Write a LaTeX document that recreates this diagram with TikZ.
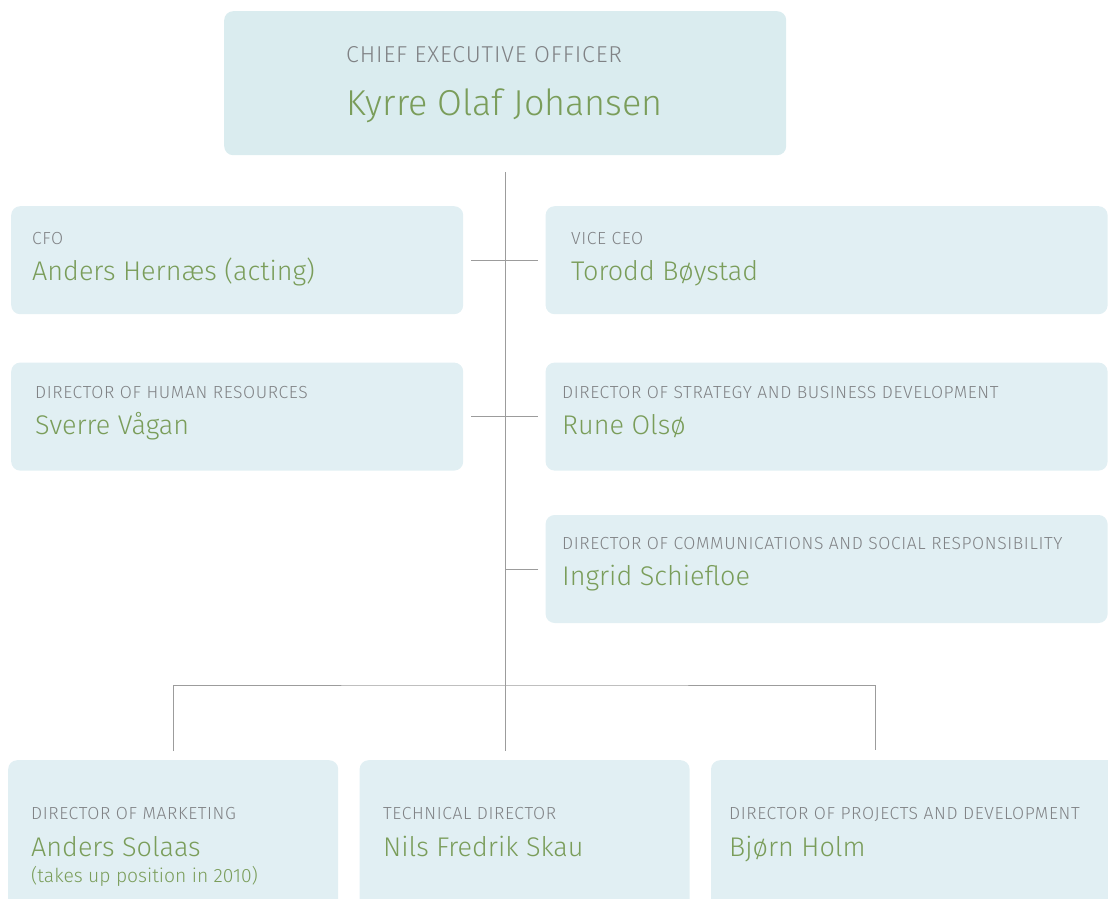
\documentclass[tikz,border=0pt]{standalone}
\usepackage{fontspec}
\setmainfont{Fira Sans Light}
\newfontfamily\postfont{Fira Sans Light}[LetterSpace=3.5]
\newfontfamily\ceopostfont{Fira Sans Light}[LetterSpace=4]
\usetikzlibrary{positioning}
\definecolor{boxfill}{HTML}{E1EFF3}
\definecolor{topfill}{HTML}{DAECEF}
\definecolor{titlegray}{HTML}{808285}
\definecolor{namegreen}{HTML}{7A9D5A}
\definecolor{linegray}{HTML}{9C9C9C}

\begin{document}
\begin{tikzpicture}[x=1pt, y=-1pt,
node distance = 48pt and 82pt,
   box/.style = {fill=boxfill, rounded corners=9pt, inner sep=0pt,
                 minimum width=452pt, minimum height=108pt},
  wide/.style = {box, minimum width=562pt},
   low/.style = {box, minimum width=330pt, minimum height=150pt},
  post/.style = {text=titlegray, font=\postfont\fontsize{17.5}{17.5}\selectfont,
                 anchor=base west, inner sep=0pt},
person/.style = {text=namegreen, font=\fontsize{27}{27}\selectfont,
                 anchor=base west, inner sep=0pt},
  link/.style = {draw=linegray, line width=0.9pt},
         ]
\useasboundingbox (0,0) rectangle (1108,899);
\clip (0,0) rectangle (1108,899);

\node (ceo)  [box, fill=topfill, minimum width=562pt, minimum height=144pt,
              anchor=north west] at (224,11) {};
\node (cfo)  [box, anchor=north west] at (11,206) {};
\node (vice) [wide, right=of cfo] {};
\node (hr)   [box, below=of cfo] {};
\node (str)  [wide, below=of vice] {};
\node (com)  [wide, below=44pt of str] {};
\node (mkt)  [low, anchor=north west] at (8,760) {};
\node (tec)  [low, right=21pt of mkt] {};
\node (prj)  [low, right=21pt of tec, minimum width=420pt] {};

% texts
\node (ceo-t) [post, font=\ceopostfont\fontsize{23}{23}\selectfont] at (346,63) {CHIEF EXECUTIVE OFFICER};
\node (ceo-n) [person, font=\fontsize{36}{36}\selectfont] at (346,115) {Kyrre Olaf Johansen};
\node (cfo-t) [post]   at (32,244) {CFO};
\node (cfo-n) [person] at (32,280) {Anders Hernæs (acting)};
\node (vice-t) [post]   at (571,244) {VICE CEO};
\node (vice-n) [person] at (571,280) {Torodd Bøystad};
\node (hr-t) [post]   at (35,398) {DIRECTOR OF HUMAN RESOURCES};
\node (hr-n) [person] at (35,434) {Sverre Vågan};
\node (str-t) [post]   at (562,398) {DIRECTOR OF STRATEGY AND BUSINESS DEVELOPMENT};
\node (str-n) [person] at (562,434) {Rune Olsø};
\node (com-t) [post]   at (562,549) {DIRECTOR OF COMMUNICATIONS AND SOCIAL RESPONSIBILITY};
\node (com-n) [person] at (562,585) {Ingrid Schiefloe};
\node (mkt-t) [post]   at (31,819) {DIRECTOR OF MARKETING};
\node (mkt-n) [person] at (31,856) {Anders Solaas};
\node (mkt-x) [person, font=\fontsize{19.3}{19.3}\selectfont] at (31,882) {(takes up position in 2010)};
\node (tec-t) [post]   at (383,819) {TECHNICAL DIRECTOR};
\node (tec-n) [person] at (383,856) {Nils Fredrik Skau};
\node (prj-t) [post]   at (729,819) {DIRECTOR OF PROJECTS AND DEVELOPMENT};
\node (prj-n) [person] at (729,856) {Bjørn Holm};

% line ends
\coordinate (top)  at ([yshift=-17pt]ceo.south);
\coordinate (foot) at (top |- 0,751);
\coordinate (fork) at (top |- 0,685);
\coordinate (l1) at ([xshift=8pt]cfo.east);
\coordinate (r1) at ([xshift=-7pt]vice.west);
\coordinate (l2) at ([xshift=8pt]hr.east);
\coordinate (r2) at ([xshift=-7pt]str.west);
\coordinate (r3) at ([xshift=-7pt]com.west);
\coordinate (m1) at ([yshift=9pt]mkt.north);
\coordinate (p1) at (875,750);

\draw[link] (top) -- (foot);
\draw[link] (l1) -- (r1);
\draw[link] (l2) -- (r2);
\draw[link] (r3) -- (top |- r3);
\draw[link] (m1) |- (fork) -| (p1);
\end{tikzpicture}
\end{document}
